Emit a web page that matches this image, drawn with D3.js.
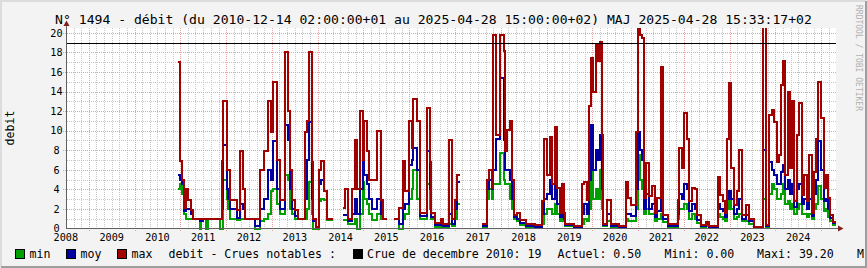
<!DOCTYPE html>
<html>
<head>
<meta charset="utf-8">
<script src="https://cdn.jsdelivr.net/npm/d3@7"></script>
<style>
body { margin: 0; background: #f3f3f3; }
svg { display: block; }
text { font-family: "DejaVu Sans Mono", monospace; }
</style>
</head>
<body>
<svg id="chart" width="867" height="268"></svg>
<script>
// samples : date de debut de chaque pas (null = pas de donnees)
var dates = [
  "2010-12-14","2010-12-27","2011-01-17","2011-01-27","2011-02-12","2011-03-06","2011-03-30","2011-04-12",
  "2011-06-04","2011-06-18","2011-07-01","2011-07-28","2011-08-10","2011-11-11","2011-11-25","2011-12-03",
  "2012-01-04","2012-01-17","2012-01-31","2012-03-24","2012-04-20","2012-05-11","2012-05-30","2012-08-18",
  "2012-09-27","2012-10-29","2012-11-30","2012-12-21",
  "2013-01-11","2013-02-08","2013-03-06","2013-04-15","2013-05-07","2013-05-25","2013-06-12","2013-07-04",
  "2013-07-30","2013-09-22","2013-10-10","2013-10-26","2013-11-15","2013-11-27","2013-12-19",
  "2014-01-14","2014-01-27","2014-02-20","2014-03-14","2014-05-06","2014-07-25","2014-08-10","2014-08-31",
  "2014-10-02","2014-10-26","2014-11-14","2014-12-05","2014-12-27",
  "2015-01-08","2015-01-27","2015-02-17","2015-03-11","2015-04-22","2015-05-19","2015-06-09","2015-07-06",
  "2015-09-03","2015-10-15","2015-11-11","2015-12-02",
  "2016-01-03","2016-01-24","2016-02-04","2016-03-02","2016-03-23","2016-05-21","2016-06-11","2016-06-24",
  "2016-07-26","2016-09-12","2016-09-28","2016-11-10","2016-12-07",
  "2017-01-03","2017-01-16","2017-02-06","2017-08-03","2017-09-12","2017-10-01","2017-10-22","2017-10-30",
  "2017-11-26","2017-12-28",
  "2018-01-23","2018-02-06","2018-02-20","2018-03-12","2018-04-01","2018-04-19","2018-05-10","2018-06-06",
  "2018-07-24","2018-10-04","2018-11-27","2018-12-15",
  "2019-01-06","2019-01-27","2019-02-15","2019-03-08","2019-03-27","2019-04-22","2019-05-06","2019-05-19",
  "2019-06-01","2019-08-07","2019-10-13","2019-10-26","2019-11-16","2019-12-05","2019-12-18",
  "2020-01-05","2020-01-27","2020-02-14","2020-03-01","2020-03-20","2020-03-28","2020-04-29","2020-05-26",
  "2020-07-29","2020-09-23","2020-10-14","2020-11-02","2020-12-12","2020-12-30",
  "2021-01-15","2021-01-29","2021-02-16","2021-03-08","2021-03-28","2021-04-25","2021-05-13","2021-06-04",
  "2021-06-30","2021-07-18","2021-08-23","2021-11-11","2021-11-24","2021-12-15",
  "2022-01-02","2022-01-23","2022-02-11","2022-03-10","2022-03-31","2022-04-19","2022-05-15","2022-06-24",
  "2022-07-21","2022-09-26","2022-10-17","2022-11-05","2022-11-26","2022-12-09","2022-12-27",
  "2023-01-15","2023-02-05","2023-02-27","2023-03-17","2023-04-13","2023-05-10","2023-06-05","2023-07-15",
  "2023-09-28","2023-10-19","2023-11-12","2023-12-01","2023-12-22",
  "2024-01-12","2024-01-31","2024-02-13","2024-02-27","2024-03-16","2024-04-07","2024-04-23","2024-05-11",
  "2024-05-30","2024-06-20","2024-07-09","2024-07-28","2024-08-18","2024-09-08","2024-09-27","2024-10-18",
  "2024-11-06","2024-11-23","2024-12-08","2024-12-30",
  "2025-01-20","2025-02-08","2025-02-26","2025-03-14","2025-04-02","2025-04-28"
];

var minVals = [
  4.0,4.6,3.5,1.5,1.0,1.0,1.0,1.0, 0.0,0.8,1.0,0.0,1.0,0.0,0.0,5.0,
  3.0,2.0,1.0,0.9,1.0,1.0,1.0,0.0, 0.8,1.0,1.5,3.8,
  4.0,2.5,1.5,5.5,5.0,2.0,1.5,1.0, 1.0,1.0,2.0,4.8,1.5,0.0,0.0,
  2.8,3.0,2.9,0.9,null,0.9,0.9,0.5, 0.5,1.0,0.0,1.5,4.8,
  3.0,2.5,1.5,0.9,1.5,1.0,1.0,null, 1.0,0.0,1.0,1.5,
  3.0,4.0,6.0,3.0,1.0,4.5,2.0,1.0, 0.2,0.3,0.1,0.5,0.3,
  1.0,2.5,null,0.2,3.0,4.0,3.0,4.5, 4.5,7.7,
  5.0,4.5,4.5,3.0,2.0,1.0,0.8,0.4, 0.2,0.1,0.5,1.5,
  2.0,2.0,1.5,2.5,1.5,0.8,1.5,0.8, 0.3,0.1,0.5,1.0,0.8,2.0,6.1,
  3.0,4.0,3.0,6.0,2.0,0.3,0.8,0.2, 0.1,1.0,0.8,0.8,2.0,7.5,
  5.0,4.0,1.5,2.0,1.5,1.5,0.8,1.0, 1.5,0.7,0.2,1.0,2.0,2.0,
  2.5,2.0,1.0,1.5,1.0,0.6,0.2,0.3, 0.1,1.5,1.2,1.0,0.8,2.0,3.4,
  2.0,1.0,1.2,1.5,0.8,0.8,0.5,0.1, 3.0,0.2,3.5,4.6,4.0,
  3.0,3.0,3.5,4.5,2.5,2.8,2.0,2.5, 1.5,2.0,2.5,1.5,1.5,1.2,1.5,1.0,
  2.0,2.5,4.3,3.0,
  1.8,2.0,1.2,0.8,0.4,0.5
];

var moyVals = [
  5.5,5.0,4.5,1.8,2.0,2.0,1.5,1.0, 0.8,0.8,1.0,1.0,1.0,1.0,2.0,8.5,
  4.0,3.0,2.0,1.1,2.5,2.0,1.0,0.3, 2.0,3.0,6.0,5.0,
  8.9,4.0,2.0,10.6,9.0,4.0,2.0,1.3, 1.0,3.0,7.0,10.9,3.0,0.8,0.1,
  4.5,5.0,3.8,1.0,null,1.4,1.4,0.8, 1.5,3.0,1.5,4.0,6.8,
  5.5,4.5,3.0,2.0,3.0,1.5,1.0,null, 1.0,0.5,2.0,2.5,
  6.5,7.0,8.2,6.0,1.3,7.9,4.0,1.2, 0.4,0.5,0.3,1.5,0.5,
  2.0,4.8,null,0.3,4.0,5.0,4.0,6.0, 9.2,15.4,
  9.0,6.0,6.0,5.0,3.0,1.2,1.0,0.6, 0.3,0.2,1.5,3.0,
  3.5,5.0,3.0,5.0,2.5,1.2,2.5,1.0, 0.4,0.2,1.5,2.5,1.5,5.0,10.6,
  6.0,8.0,7.0,9.6,4.0,0.4,1.5,0.3, 0.2,1.5,1.5,1.3,4.0,9.9,
  8.0,7.0,2.0,3.5,2.0,2.5,1.2,1.8, 3.0,1.0,0.3,1.5,3.5,3.0,
  4.5,4.0,1.8,2.5,2.0,0.9,0.3,0.5, 0.2,2.5,2.0,1.8,1.2,3.0,3.8,
  3.0,1.5,2.0,3.0,1.0,1.4,0.8,0.1, 8.0,0.3,6.8,6.0,5.5,
  4.5,4.5,5.8,6.5,4.0,5.0,3.5,4.5, 2.2,4.0,4.5,2.5,3.0,2.0,3.0,1.3,
  3.5,5.0,8.9,6.0,
  2.8,3.0,2.0,1.1,0.6,0.5
];

var maxVals = [
  17.0,6.9,5.0,2.1,4.0,2.9,1.9,1.0, 1.0,1.0,1.0,1.0,1.0,1.0,6.9,13.0,
  6.0,6.0,2.9,1.9,7.9,4.0,1.0,1.0, 6.0,7.9,13.0,9.9,
  15.0,7.0,2.9,18.0,12.0,6.0,2.9,1.9, 1.0,9.9,11.0,18.0,6.8,1.0,0.2,
  6.0,6.9,3.8,1.0,null,2.1,4.0,1.0, 4.0,9.0,4.0,12.0,7.0,
  11.0,7.9,5.0,5.0,10.0,2.9,1.0,null, 1.0,2.1,6.9,3.8,
  11.0,8.2,13.2,11.0,1.6,12.3,6.8,1.6, 0.6,1.0,0.5,9.0,1.0,
  2.9,5.5,null,0.5,5.0,6.0,4.1,19.8, 9.6,19.8,
  18.1,7.9,10.1,11.0,5.0,1.4,1.6,0.9, 0.5,0.4,2.8,9.2,
  5.5,9.4,4.6,10.4,4.1,1.6,4.5,1.6, 0.5,0.3,4.5,4.8,2.9,12.5,17.4,
  14.0,18.8,17.1,19.1,9.6,0.5,2.9,0.5, 0.3,4.8,3.1,2.4,9.9,21.5,
  19.8,19.5,3.1,6.7,3.3,4.3,1.6,3.1, 16.5,1.4,0.5,2.9,8.2,6.2,
  11.8,9.1,2.8,4.1,4.0,1.4,0.4,0.7, 0.3,5.3,3.4,2.8,1.6,9.2,14.9,
  6.2,2.4,3.8,8.0,1.4,2.4,1.0,0.2, 22.0,0.4,11.6,12.1,10.9,
  6.8,7.5,14.7,17.1,5.5,14.0,6.2,13.0, 2.8,9.6,12.8,3.4,5.5,2.8,7.5,1.6,
  5.8,9.2,15.0,11.3,
  4.1,5.5,3.1,1.4,0.7,0.5
];

var crueLabel = "Crue de decembre 2010";
var crueValue = 19;
var yLabels = [0, 2, 4, 6, 8, 10, 12, 14, 16, 18, 20];
var startTime = new Date(2008, 6, 6);
var endTime = new Date(2025, 3, 28, 15, 0, 0);

var series = [
  { name: "min", vals: minVals, color: "#00a000" },
  { name: "moy", vals: moyVals, color: "#0000a0" },
  { name: "max", vals: maxVals, color: "#a00000" }
];

(function() {
  var svg = d3.select("#chart");
  var parse = d3.timeParse("%Y-%m-%d");
  var pLeft = 66.5, pRight = 836, pTop = 28, pBottom = 228.5;

  var x = d3.scaleTime().domain([startTime, endTime]).range([pLeft, pRight]);
  var y = d3.scaleLinear().domain([0, 20.5]).range([pBottom, pTop]);
  function px(v) { return Math.round(x(v)) + 0.5; }
  function py(v) { return Math.round(y(v)) + 0.5; }

  // fond et cadre
  svg.append("rect").attr("width", 867).attr("height", 268).attr("fill", "#f3f3f3");
  svg.append("rect").attr("x", 67).attr("y", pTop).attr("width", 836 - 67).attr("height", 228 - pTop).attr("fill", "#fff");
  svg.append("path").attr("d", "M1,267V1H866").attr("fill", "none").attr("stroke", "#dcdcdc").attr("stroke-width", 2);
  svg.append("path").attr("d", "M1,267H866V1").attr("fill", "none").attr("stroke", "#9e9e9e").attr("stroke-width", 2);

  // grille
  var g = svg.append("g").attr("shape-rendering", "crispEdges");
  var minorY = d3.range(1, 21).filter(function(v){ return v % 2; });
  g.selectAll(".gy").data(minorY).enter().append("line")
    .attr("x1", 67).attr("x2", pRight).attr("y1", py).attr("y2", py)
    .attr("stroke", "#c8c8c8").attr("stroke-dasharray", "1,1");
  var minorX = d3.timeMonth.every(2).range(startTime, endTime).filter(function(d){ return d.getMonth() !== 0; });
  g.selectAll(".gx").data(minorX).enter().append("line")
    .attr("y1", pTop).attr("y2", 228).attr("x1", px).attr("x2", px)
    .attr("stroke", "#c8c8c8").attr("stroke-dasharray", "1,1");
  g.selectAll(".my").data(yLabels.slice(1)).enter().append("line")
    .attr("x1", 63).attr("x2", pRight).attr("y1", py).attr("y2", py)
    .attr("stroke", "#e8a0a0").attr("stroke-dasharray", "1,1");
  var years = d3.timeYear.range(startTime, endTime);
  g.selectAll(".mx").data(years).enter().append("line")
    .attr("y1", pTop).attr("y2", 232).attr("x1", px).attr("x2", px)
    .attr("stroke", "#e8a0a0").attr("stroke-dasharray", "1,1");

  // courbes en escalier
  function stepPoints(vals) {
    var pts = [];
    for (var i = 0; i < vals.length; i++) {
      var t0 = parse(dates[i]);
      var t1 = i + 1 < dates.length ? parse(dates[i + 1]) : endTime;
      if (vals[i] === null) { pts.push(null); continue; }
      pts.push([t0, vals[i]]);
      pts.push([t1, vals[i]]);
    }
    return pts;
  }
  var line = d3.line()
    .defined(function(d){ return d !== null; })
    .x(function(d){ return Math.round(x(d[0])); })
    .y(function(d){ return Math.round(y(d[1])); });

  svg.append("clipPath").attr("id", "clip").append("rect")
    .attr("x", 67).attr("y", pTop).attr("width", 836 - 67).attr("height", 202);
  var plot = svg.append("g").attr("clip-path", "url(#clip)");
  series.forEach(function(s) {
    plot.append("path").datum(stepPoints(s.vals))
      .attr("d", line).attr("fill", "none").attr("stroke", s.color)
      .attr("stroke-width", 2).attr("stroke-linejoin", "miter").attr("shape-rendering", "crispEdges");
  });

  // crue de reference
  svg.append("line").attr("x1", 67).attr("x2", pRight)
    .attr("y1", py(crueValue)).attr("y2", py(crueValue))
    .attr("stroke", "#000").attr("shape-rendering", "crispEdges");

  // axes
  svg.append("line").attr("x1", 66).attr("x2", 840).attr("y1", 228.5).attr("y2", 228.5)
    .attr("stroke", "#606060").attr("shape-rendering", "crispEdges");
  svg.append("line").attr("x1", 66.5).attr("x2", 66.5).attr("y1", 229).attr("y2", 24)
    .attr("stroke", "#606060").attr("shape-rendering", "crispEdges");
  svg.append("path").attr("d", "M838,225.5L843.5,228.5L838,231.5Z").attr("fill", "#7f1f1f");
  svg.append("path").attr("d", "M63.5,26L66.5,20.5L69.5,26Z").attr("fill", "#7f1f1f");

  // libelles des axes
  var midYears = d3.timeYear.range(new Date(2008, 0, 1), endTime)
    .map(function(d){ return d3.timeDay.offset(d, 182); })
    .filter(function(d){ return d >= d3.timeDay.offset(startTime, -7) && d <= endTime; });
  svg.selectAll(".xl").data(midYears).enter().append("text")
    .attr("x", function(d){ return x(d); }).attr("y", 241).attr("text-anchor", "middle")
    .attr("font-size", "10.2px").attr("fill", "#000").text(function(d){ return d.getFullYear(); });
  svg.selectAll(".yl").data(yLabels).enter().append("text")
    .attr("x", 56.5).attr("y", function(d){ return y(d) + 3.7; }).attr("text-anchor", "middle")
    .attr("font-size", "10.2px").attr("fill", "#000").text(function(d){ return d; });

  svg.append("text").attr("transform", "translate(14,128) rotate(-90)")
    .attr("text-anchor", "middle").attr("font-size", "11.6px").text("debit");

  svg.append("text").attr("x", 433.5).attr("y", 24).attr("text-anchor", "middle").attr("font-size", "13.1px")
    .text("N° 1494 - débit (du 2010-12-14 02:00:00+01 au 2025-04-28 15:00:00+02) MAJ 2025-04-28 15:33:17+02");

  svg.append("text").attr("transform", "translate(856,5) rotate(90)").attr("font-size", "8px").attr("fill", "#b0b0b0")
    .text("RRDTOOL / TOBI OETIKER");

  // legende
  var legend = [
    { box: series[0].color, x: 15, text: "min", tx: 29.5 },
    { box: series[1].color, x: 66, text: "moy", tx: 80.5 },
    { box: series[2].color, x: 117, text: "max", tx: 131.5 },
    { box: null, text: "debit - Crues notables :", tx: 168.5 },
    { box: "#000", x: 352.5, text: crueLabel + ": " + crueValue, tx: 367 },
    { box: null, text: "Actuel: 0.50", tx: 557.5 },
    { box: null, text: "Mini: 0.00", tx: 664.5 },
    { box: null, text: "Maxi: 39.20", tx: 757 },
    { box: null, text: "M", tx: 857 }
  ];
  legend.forEach(function(l) {
    if (l.box) {
      svg.append("rect").attr("x", l.x + 0.5).attr("y", 249.5).attr("width", 9).attr("height", 9)
        .attr("fill", l.box).attr("stroke", "#000").attr("shape-rendering", "crispEdges");
    }
    svg.append("text").attr("x", l.tx).attr("y", 258).attr("font-size", "11.6px").text(l.text);
  });
})();
</script>
</body>
</html>
